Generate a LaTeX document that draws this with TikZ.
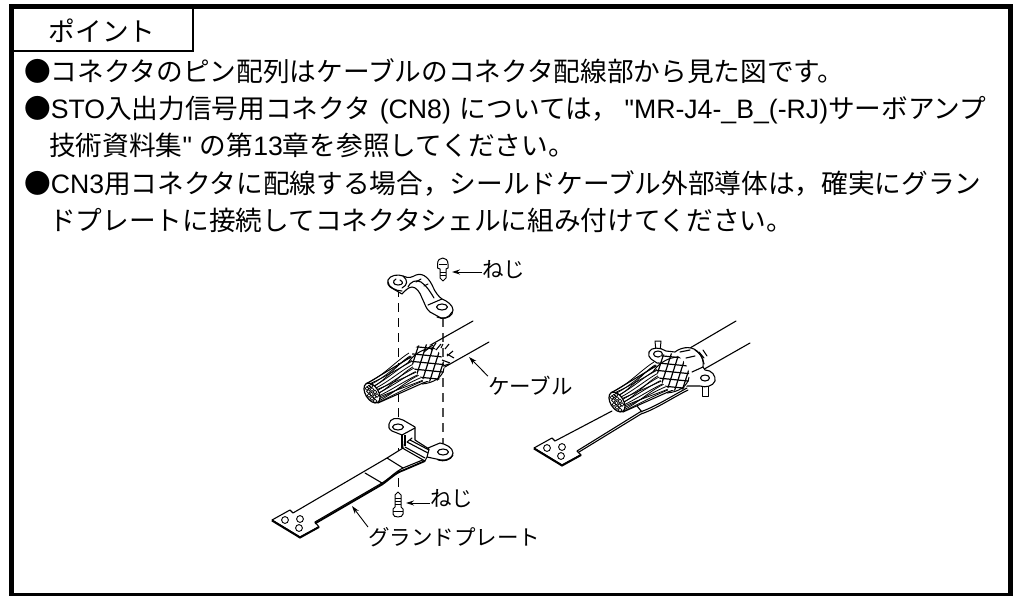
\documentclass[tikz,border=0pt]{standalone}
\usepackage{fontspec}
\setmainfont{Noto Sans CJK JP}
\newfontfamily\lat{Liberation Sans}
\usetikzlibrary{arrows.meta}
\tikzset{
  txt/.style={anchor=base west,inner sep=0pt,font=\fontsize{26.67}{26.67}\selectfont},
  lbl/.style={inner sep=0pt,font=\fontsize{21.5}{21.5}\selectfont},
  part/.style={draw=black,fill=white,line width=1.1pt,line join=round},
  ln/.style={draw=black,line width=1.1pt,line join=round,line cap=round},
  thin ln/.style={draw=black,line width=.8pt},
  guide/.style={draw=black!70,line width=1.2pt,dash pattern=on 9pt off 6pt},
  callout/.style={draw=black,line width=.9pt,-{Stealth[length=8pt,width=5pt]}}
}
\newcommand{\wirebundle}{%
  \path[part] (-6,-9) -- (34,-33) .. controls (42,-38) and (50,-40) .. (56,-42) -- (62,-14) -- (51,-10) -- (6,10) .. controls (2,8) and (-4,-2) .. (-6,-9) -- cycle;
  \foreach \t in {-1,-.75,-.5,-.25,0,.25,.5,.75,1}{
    \draw[thin ln] ({\t*6},{\t*9.5}) .. controls ({16+\t*6},{-7+\t*9}) and ({30+\t*6},{-19+\t*13}) .. ({44+\t*7},{-26+\t*14});
  }
  \foreach \s/\e in {-.85/-.45,-.45/-.8,-.1/.3,.3/-.1,.6/.95,.9/.55}{
    \draw[thin ln] ({\s*6},{\s*9.5}) .. controls ({16+\s*6},{-7+\s*9}) and ({30+\e*6},{-19+\e*13}) .. ({44+\e*7},{-26+\e*14});
  }
  \fill[white,rotate=-58] (0,0) ellipse[x radius=11pt,y radius=6.5pt];
  \draw[line width=1.2pt,rotate=-58] (0,0) ellipse[x radius=11pt,y radius=6.5pt];
  \foreach \a/\b in {-3/-6,0/-3.5,3/-1,-3.5/-1.5,-.5/1,2.5/3.5,-3/2.5,0/5.5,3/8,-5/-4.5,5/2.5,-1/-7}{
    \draw[line width=.7pt] (\a,\b) circle[radius=1.8pt];
  }
  \begin{scope}
    \path[clip,rotate around={-60:(56,-30)}] (56,-30) ellipse[x radius=20pt,y radius=15pt];
    \fill[white] (20,-60) rectangle (90,0);
    \foreach \i in {-4,...,4}{
      \draw[line width=1.2pt] ({56-\i*2.2-30},{-30+\i*7.3-3}) -- ({56-\i*2.2+30},{-30+\i*7.3+3});
      \draw[line width=1.2pt] ({56+\i*7.3+9},{-30+\i*.8-28}) -- ({56+\i*7.3-9},{-30+\i*.8+28});
    }
  \end{scope}
  \draw[line width=1pt] (36,-30) .. controls (40,-37) and (50,-45) .. (62,-45);
  \draw[line width=1pt] (72,-25) .. controls (71,-16) and (62,-10) .. (50,-9);
}
\newcommand{\fray}{%
  \foreach \a/\b/\c/\d in {431/350/436/343,436/350/441/344,441/348/443/344,445/349/449/344,447/356/453/351,447/354/454/358,442/360/450/363,443/366/449/364,428/348/433/345,424/352/430/347}{
    \draw[line width=1.1pt] (\a,\b) -- (\c,\d);
  }
}
\newcommand{\plateholes}{%
  \draw[line width=.9pt] (285,520) circle[radius=3.4pt];
  \draw[line width=.9pt] (300,519) circle[radius=3.4pt];
  \draw[line width=.9pt] (299,528) circle[radius=3.4pt];
}
\begin{document}
\begin{tikzpicture}[x=1pt,y=-1pt]
\useasboundingbox (0,0) rectangle (1013,595);
\fill[white] (0,0) rectangle (1013,595);
% frame
\node[draw=black,line width=4.7pt,inner sep=0pt,minimum width=998.8pt,minimum height=589.3pt] (frame) at (511.1,301) {};
\coordinate (tabA) at (193,7);
\coordinate (tabB) at (193,50.5);
\coordinate (tabC) at (12,50.5);
\draw[line width=2pt] (tabA) -- (tabB) -- (tabC);
\node[txt,anchor=center] (point) at (102,31) {ポイント};
% text
\node[txt] (l1) at (24,81) {●コネクタのピン配列はケーブルのコネクタ配線部から見た図です。};
\node[txt] (l2) at (24,118) {●{\lat STO}入出力信号用コネクタ\hspace{3pt} {\lat (CN8)} \hspace{3pt}については，\hspace{6pt}{\lat "MR-J4-\_B\_(-RJ)}サーボアンプ};
\node[txt] (l3) at (49,155.5) {技術資料集{\lat "} \hspace{2pt}の第{\lat 13}章を参照してください。};
\node[txt] (l4) at (24,193) {●{\lat CN3}用コネクタに配線する場合，シールドケーブル外部導体は，確実にグラン};
\node[txt] (l5) at (49,230.5) {ドプレートに接続してコネクタシェルに組み付けてください。};
% dashed guides
\coordinate (dA1) at (398,288); \coordinate (dA2) at (398,426);
\coordinate (dB1) at (443,318); \coordinate (dB2) at (443,452);
\coordinate (dC1) at (398,448); \coordinate (dC2) at (398,492);
\draw[guide,draw=black,line width=.8pt] (dA1) -- (dA2);
\draw[guide] (dB1) -- (dB2);
\draw[guide,draw=black,line width=.8pt] (dC1) -- (dC2);
% top screw
\path[part,line width=1pt] (437.5,264) .. controls (437.5,256) and (448,256) .. (448,264) -- (448,268) -- (446,269) -- (446,278) -- (443,281) -- (440,278) -- (440,269) -- (437.5,268) -- cycle;
\draw[line width=.9pt] (440,272) -- (446,272) (440,275) -- (446,275) (439,264) -- (447,264);
% top clamp
\path[part] (388,280) .. controls (390,275) and (398,274) .. (403,276) .. controls (409,279) and (412,277) .. (416,275) .. controls (424,272) and (430,280) .. (433,287) .. controls (435,292) and (439,297) .. (442,299) .. controls (447,301) and (453,305) .. (453,310) .. controls (453,316) and (447,319) .. (441,318) -- (430,312) .. controls (426,309) and (425,304) .. (422,298) .. controls (420,292) and (416,287) .. (412,287) .. controls (408,287) and (404,292) .. (402,294) -- (390,287) .. controls (388,285) and (387,283) .. (388,280) -- cycle;
\draw[ln] (388,282) .. controls (388,287) and (396,291) .. (402,291) (403,276) .. controls (408,280) and (408,285) .. (402,288);
\draw[ln] (408,287) .. controls (410,282) and (416,279) .. (421,282) .. controls (427,286) and (431,293) .. (434,298) (428,305) -- (442,299);
\draw[ln] (416,282) -- (421,279) (424,286) -- (428,284);
\draw[ln] (400,280) .. controls (404,282) and (403,285) .. (398,285) .. controls (393,285) and (392,281) .. (396,279);
\draw[ln] (442,307) ellipse[x radius=5.5pt,y radius=3pt];
\draw[ln] (452,312) .. controls (449,318) and (443,320) .. (437,317);
% bottom plate, left view
\path[part] (290,510) -- (293,513) -- (387,458) -- (403,448) -- (425,459) -- (403,468) .. controls (395,472) and (390,478) .. (382,483) -- (315,522) -- (319,527) -- (300,537) -- (272,520) -- cycle;
\draw[line width=2pt] (272,520.5) -- (300,537.5) -- (319,527);
\draw[line width=1.8pt] (315,523.5) -- (382,484.5) .. controls (390,479) and (395,473) .. (404,470) -- (425,461);
\draw[ln] (365,473) -- (382,483) (387,458) -- (403,468);
\plateholes
\path[part] (428,448) -- (440,443) .. controls (446,444) and (453,448) .. (453,453) .. controls (453,458) and (446,461) .. (441,460) -- (427,457) -- cycle;
\draw[ln] (453,455) .. controls (451,460) and (444,462) .. (438,460);
\draw[ln] (443,452) ellipse[x radius=5.5pt,y radius=3pt];
\path[part] (389,424) .. controls (390,418) and (397,417) .. (403,420) -- (415,427) -- (415,440) -- (429,449) -- (427,457) -- (425,461) -- (404,449) -- (403,448) -- (402,435) -- (392,431) .. controls (389,429) and (388,427) .. (389,424) -- cycle;
\draw[ln] (402,435) -- (415,428);
\draw[line width=2pt] (402,435) -- (402,448) (405,435) -- (405,446);
\draw[ln] (407,442) -- (428,453) (410,440) -- (429,450) (405,447) -- (425,458) (407,442) -- (412,438);
\draw[ln] (398,427) ellipse[x radius=5.5pt,y radius=3pt];
% bottom screw
\path[part,line width=1pt] (398,492) -- (401,495) -- (401,507) -- (403,509) -- (403,514) .. controls (403,518) and (393,518) .. (393,514) -- (393,509) -- (395,507) -- (395,495) -- cycle;
\draw[line width=.9pt] (395,498) -- (401,498) (395,501) -- (401,501) (395,504) -- (401,504) (393,511) -- (403,511);
% cable, left view
\coordinate (cA1) at (473,321); \coordinate (cA2) at (427,347);
\coordinate (cB1) at (489,342); \coordinate (cB2) at (443,368);
\draw[ln] (cA1) -- (cA2);
\draw[ln] (cB1) -- (cB2);
\begin{scope}[shift={(372,393)}]\wirebundle\end{scope}
\fray
% right view: plate
\begin{scope}[shift={(262,-72)}]
  \path[part] (293,513) -- (290,510) -- (272,520) -- (300,537) -- (319,527) -- (315,523);
  \draw[line width=2pt] (272,520.5) -- (300,537.5) -- (319,527);
  \plateholes
\end{scope}
\coordinate (pA1) at (555,441); \coordinate (pA2) at (612,411);
\coordinate (pB1) at (577,451); \coordinate (pB2) at (640,412);
\coordinate (pB3) at (687,388);
\draw[ln] (pA1) -- (pA2);
\draw[ln] (pB1) -- (pB2) .. controls (655,407) and (672,396) .. (pB3);
\draw[ln] (579,452) -- (641,414) .. controls (656,409) and (672,398) .. (688,390);
\draw[ln] (637,406) -- (642,412);
% right view: cable
\coordinate (rA1) at (736,321); \coordinate (rA2) at (690,348);
\coordinate (rB1) at (750,343); \coordinate (rB2) at (692,376);
\draw[ln] (rA1) -- (rA2);
\draw[ln] (rB1) -- (rB2);
% right view: studs
\path[part,line width=1pt] (655,341) -- (661,341) -- (660,352) -- (656,352) -- cycle;
\path[part,line width=1pt] (702,385) -- (708,385) -- (708,396) -- (702,396) -- cycle;
% right view: clamp
\path[part] (649,352) .. controls (651,347) and (660,347) .. (666,351) -- (675,352) .. controls (680,348) and (690,345) .. (697,351) .. controls (702,355) and (704,361) .. (703,367) -- (705,370) .. controls (712,370) and (716,376) .. (715,381) .. controls (713,386) and (706,388) .. (700,386) -- (686,386) -- (660,365) -- (651,359) .. controls (649,357) and (648,355) .. (649,352) -- cycle;
\draw[ln] (658,354) ellipse[x radius=4.5pt,y radius=3pt];
\draw[ln] (705,378) ellipse[x radius=4.5pt,y radius=3pt];
\draw[ln] (692,372) -- (703,367);
\draw[ln] (695,350) .. controls (700,353) and (703,358) .. (704,364);
\draw[ln] (680,352) -- (690,350) (686,358) -- (695,356);
\draw[ln] (699,352) -- (704,358) (703,350) -- (707,356);
\begin{scope}[shift={(617,402)}]\wirebundle\end{scope}
% labels and callouts
\node[lbl,anchor=west] (screwA) at (482,270) {ねじ};
\coordinate (screwAtip) at (452,272);
\draw[callout] (screwA.west |- screwAtip) -- (screwAtip);
\node[lbl,anchor=west] (cableT) at (488,386) {ケーブル};
\coordinate (cableTip) at (469,357);
\draw[callout] (cableT.north west) -- (cableTip);
\node[lbl,anchor=west] (screwB) at (430,499) {ねじ};
\coordinate (screwBtip) at (406,503);
\draw[callout] (screwB.west |- screwBtip) -- (screwBtip);
\node[lbl,anchor=west] (plateT) at (368,537) {グランドプレート};
\coordinate (plateTip) at (352,506);
\draw[callout] (plateT.north west) -- (plateTip);
\end{tikzpicture}
\end{document}
